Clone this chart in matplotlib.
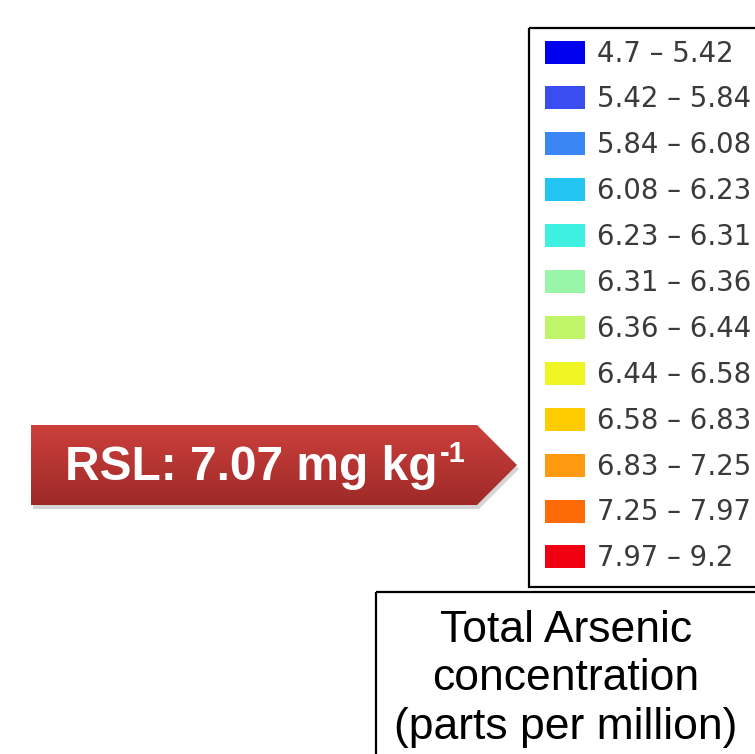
import numpy as np
import matplotlib
matplotlib.use("Agg")
import matplotlib.pyplot as plt
from matplotlib.patches import Polygon, Rectangle

# ---- data ----
class_bounds = [4.7, 5.42, 5.84, 6.08, 6.23, 6.31, 6.36, 6.44, 6.58, 6.83, 7.25, 7.97, 9.2]
class_colors = ["#0000ee", "#3a4df0", "#3a86f5", "#22c4f2", "#3ef0e0", "#99f5a8",
                "#c0f56a", "#eef522", "#ffcc00", "#ff9a10", "#ff6a08", "#ee0010"]
class_labels = [f"{lo} \u2013 {hi}" for lo, hi in zip(class_bounds[:-1], class_bounds[1:])]
rsl_value = 7.07
title_lines = ["Total Arsenic", "concentration", "(parts per million)"]

W, H = 755, 754
fig = plt.figure(figsize=(W / 100, H / 100), dpi=100)
ax = fig.add_axes([0, 0, 1, 1])
ax.set_xlim(0, W)
ax.set_ylim(H, 0)
ax.axis("off")

# ---- legend box ----
ax.add_patch(Rectangle((529, 28), 240, 559, fill=False, edgecolor="black", lw=1.6, zorder=1))
row_y = 52 + 45.9 * np.arange(len(class_labels))
ax.barh(row_y, width=40, left=545, height=23, color=class_colors, zorder=2)
for y, lab in zip(row_y, class_labels):
    ax.text(597, y + 1.5, lab, fontsize=19.8, family="DejaVu Sans", color="#3a3a3a",
            va="center", ha="left", zorder=3)

# ---- title box ----
ax.add_patch(Rectangle((376, 592), 400, 200, fill=False, edgecolor="black", lw=1.6, zorder=1))
for i, line in enumerate(title_lines):
    ax.text(566, 630 + 49 * i, line, fontsize=32, family="Liberation Sans",
            color="black", ha="center", va="center", zorder=3)

# ---- RSL arrow ----
pts = np.array([[31, 425], [477, 425], [517, 465], [477, 505], [31, 505]])
shadow = Polygon(pts + np.array([2, 4]), closed=True, facecolor="#888888",
                 edgecolor="none", alpha=0.35, zorder=4)
ax.add_patch(shadow)
arrow = Polygon(pts, closed=True, facecolor="none", edgecolor="none", zorder=5)
ax.add_patch(arrow)
top = np.array([204, 64, 60]) / 255
bot = np.array([158, 42, 40]) / 255
t = np.linspace(0, 1, 100)[:, None]
grad = (top[None, :] * (1 - t) + bot[None, :] * t)[:, None, :]
grad = np.repeat(grad, 2, axis=1)
im = ax.imshow(grad, extent=[31, 517, 505, 425], aspect="auto", zorder=5,
               interpolation="bilinear")
im.set_clip_path(arrow)
ax.set_xlim(0, W)
ax.set_ylim(H, 0)
main = ax.text(65, 467, f"RSL: {rsl_value} mg kg", fontsize=34.5,
               family="Liberation Sans", weight="bold", color="white",
               ha="left", va="center", zorder=6)
ax.annotate("-1", xy=(1, 0.8), xycoords=main, xytext=(1.5, 0), textcoords="offset points",
            fontsize=21, family="Liberation Sans", weight="bold", color="white",
            ha="left", va="center", zorder=6)

fig.savefig("out.png", dpi=100)
